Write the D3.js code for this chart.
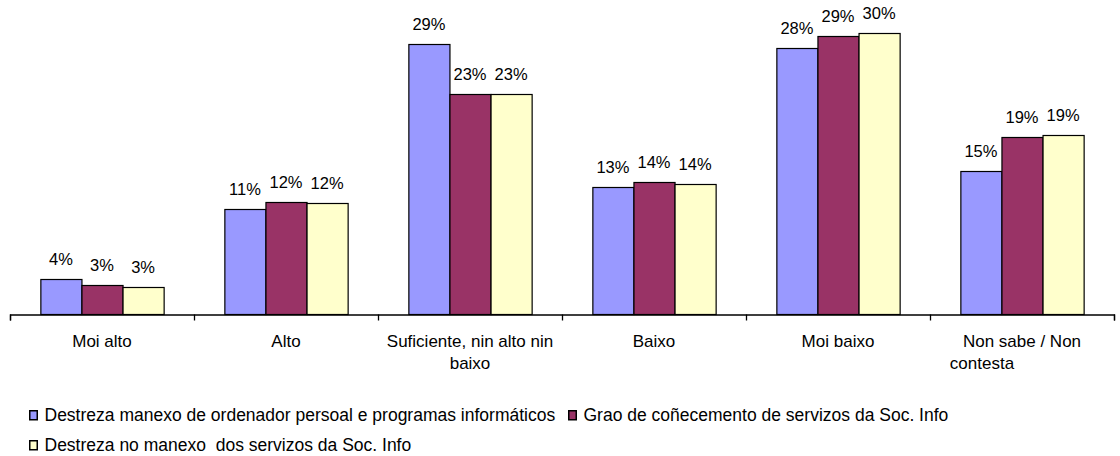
<!DOCTYPE html>
<html>
<head>
<meta charset="utf-8">
<script src="https://cdn.jsdelivr.net/npm/d3@7"></script>
<style>
  body { margin: 0; background: #fff; }
  svg { display: block; font-family: "Liberation Sans", Arial, sans-serif; }
</style>
</head>
<body>
<div id="chart"></div>
<script>
const categories = ["Moi alto", "Alto", "Suficiente, nin alto nin baixo", "Baixo", "Moi baixo", "Non sabe / Non contesta"];
const categoryLines = [["Moi alto"], ["Alto"], ["Suficiente, nin alto nin", "baixo"], ["Baixo"], ["Moi baixo"], ["Non sabe / Non", "contesta"]];
const seriesNames = [
    "Destreza manexo de ordenador persoal e programas informáticos",
    "Grao de coñecemento de servizos da Soc. Info",
    "Destreza no manexo  dos servizos da Soc. Info"
];
const seriesColors = ["#9999ff", "#993366", "#ffffcc"];
const destrezaOrdenador = [3.7, 11.1, 28.6, 13.4, 28.2, 15.1];
const graoConecemento = [3.1, 11.9, 23.3, 14.0, 29.4, 18.7];
const destrezaServizos = [2.9, 11.7, 23.3, 13.8, 29.7, 18.9];
const seriesValues = [destrezaOrdenador, graoConecemento, destrezaServizos];

const width = 1120;
const height = 456;
const axisY = 314;

const svg = d3.select("#chart")
    .append("svg")
    .attr("width", width)
    .attr("height", height);

const x0 = d3.scaleBand()
    .domain(categories)
    .range([10, 1114]);

const x1 = d3.scaleBand()
    .domain(seriesNames)
    .range([x0.bandwidth() * 0.165, x0.bandwidth() * 0.835]);

const y = d3.scaleLinear()
    .domain([0, 30])
    .range([axisY, axisY - 283.5]);

const color = d3.scaleOrdinal()
    .domain(seriesNames)
    .range(seriesColors);

// flat list of bars
const bars = [];
categories.forEach((c, i) => {
    seriesNames.forEach((s, j) => {
        bars.push({ cat: c, series: s, value: seriesValues[j][i] });
    });
});

svg.append("g")
    .selectAll("rect")
    .data(bars)
    .enter()
    .append("rect")
    .attr("x", d => x0(d.cat) + x1(d.series) + 0.5)
    .attr("y", d => Math.round(y(d.value)) + 0.5)
    .attr("width", x1.bandwidth())
    .attr("height", d => axisY - Math.round(y(d.value)))
    .attr("fill", d => color(d.series))
    .attr("stroke", "#000")
    .attr("stroke-width", 1.2);

svg.append("g")
    .selectAll("text")
    .data(bars)
    .enter()
    .append("text")
    .attr("x", d => x0(d.cat) + x1(d.series) + x1.bandwidth() / 2)
    .attr("y", d => y(d.value) - 14)
    .attr("text-anchor", "middle")
    .attr("font-size", 16.5)
    .attr("fill", "#000")
    .text(d => Math.round(d.value) + "%");

// category axis, ticks on the band edges
const edge = d3.scaleLinear()
    .domain([0, categories.length])
    .range([10, 1114]);

const axis = svg.append("g")
    .attr("transform", `translate(0,${axisY + 0.5})`)
    .call(d3.axisBottom(edge)
        .ticks(categories.length)
        .tickSize(6)
        .tickSizeOuter(6)
        .tickFormat(""));
axis.selectAll("path, line").attr("stroke", "#000").attr("stroke-width", 1.3);

const catLabel = svg.append("g")
    .selectAll("text")
    .data(categories)
    .enter()
    .append("text")
    .attr("text-anchor", "middle")
    .attr("font-size", 17)
    .attr("fill", "#000");

catLabel.each(function(c, i) {
    const t = d3.select(this);
    categoryLines[i].forEach((line, k) => {
        t.append("tspan")
            .attr("x", x0(c) + x0.bandwidth() / 2 + (i === 5 && k === 1 ? -40 : 0))
            .attr("y", 347 + k * 22)
            .text(line);
    });
});

// legend
const legendPos = [[29, 421], [568, 421], [29, 451]];
const legend = svg.append("g")
    .selectAll("g")
    .data(seriesNames)
    .enter()
    .append("g")
    .attr("transform", (d, i) => `translate(${legendPos[i][0]},${legendPos[i][1]})`);

legend.append("rect")
    .attr("x", 0.75)
    .attr("y", -10.25)
    .attr("width", 7.5)
    .attr("height", 9)
    .attr("fill", d => color(d))
    .attr("stroke", "#000")
    .attr("stroke-width", 1.5);

legend.append("text")
    .attr("x", 15.5)
    .attr("y", 0)
    .attr("font-size", 17.5)
    .attr("fill", "#000")
    .style("white-space", "pre")
    .text(d => d);
</script>
</body>
</html>
